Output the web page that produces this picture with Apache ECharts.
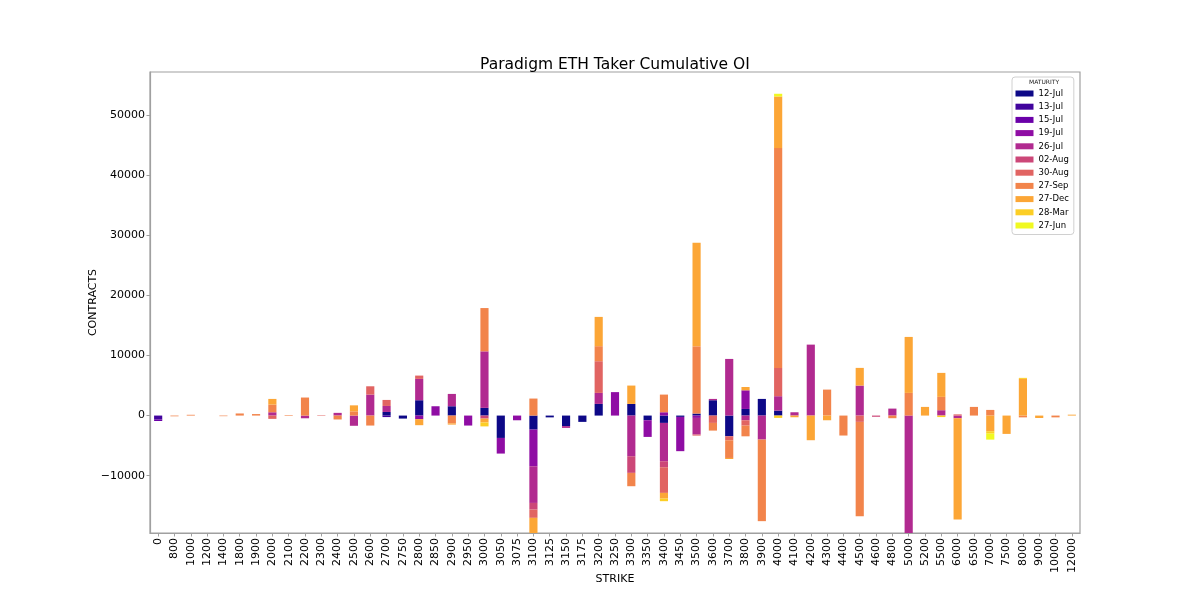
<!DOCTYPE html>
<html>
<head>
<meta charset="utf-8">
<script src="https://cdn.jsdelivr.net/npm/echarts@6/dist/echarts.min.js"></script>
<style>html,body{margin:0;padding:0;background:#fff;}#c{width:1200px;height:600px;}</style>
</head>
<body>
<div id="c"></div>
<script>
const strikes = ['0','800','1000','1200','1400','1800','1900','2000','2100','2200','2300','2400','2500','2600','2700','2750','2800','2850','2900','2950','3000','3050','3075','3100','3125','3150','3175','3200','3250','3300','3350','3400','3450','3500','3600','3700','3800','3900','4000','4100','4200','4300','4400','4500','4600','4800','5000','5200','5500','6000','6500','7000','7500','8000','9000','10000','12000'];
const maturities = ['12-Jul','13-Jul','15-Jul','19-Jul','26-Jul','02-Aug','30-Aug','27-Sep','27-Dec','28-Mar','27-Jun'];
const colors = ['#0d0887','#41049d','#6a00a8','#8f0da4','#b12a90','#cc4778','#e16462','#f2844b','#fca636','#fcce25','#f0f921'];
const yTicks = [-10000,0,10000,20000,30000,40000,50000];

//            0   800 1000 1200 1400 1800 1900 2000 2100 2200 2300 2400 2500 2600 2700 2750 2800 2850 2900 2950 3000 3050 3075 3100 3125 3150 3175 3200 3250 3300 3350 3400 3450 3500 3600 3700 3800 3900 4000 4100 4200 4300 4400 4500 4600 4800 5000 5200 5500 6000 6500 7000 7500 8000 9000 10000 12000
const jul12 = [0,0,0,0,0,0,0,0,0,0,0,0,0,0,600,-500,2550,0,1550,0,1280,-3720,0,-2330,-300,-1750,-1050,1940,0,1940,-780,-1220,-220,330,2550,-3440,1100,2770,830,0,0,0,0,0,0,0,0,0,0,0,0,0,0,0,0,0,0];
const jul13 = [-650,0,0,0,0,0,0,0,0,0,0,0,0,0,-250,0,0,0,0,0,0,0,0,0,0,0,0,0,0,0,0,0,0,0,0,0,0,0,0,0,0,0,0,0,0,0,0,0,0,0,0,0,0,0,0,0,0];
const jul15 = [-250,0,0,0,0,0,0,0,0,0,0,0,0,0,0,0,0,0,0,0,0,0,0,0,0,0,0,0,0,0,0,0,0,0,0,0,0,0,0,0,0,0,0,0,0,0,0,0,0,0,0,0,0,0,0,0,0];
const jul19 = [0,0,0,0,0,0,0,0,0,0,0,0,0,0,0,0,-600,1550,0,-1660,0,-2600,-780,-6100,0,0,0,0,3900,0,-2770,550,-5700,-390,0,0,3100,0,0,0,0,0,0,0,0,0,0,0,0,0,0,0,0,0,0,0,0];
const jul26 = [0,0,0,0,0,0,0,550,0,-450,0,450,-1700,3490,1000,0,3550,0,2050,0,9400,0,0,-6100,0,-300,0,1830,0,-6760,0,-6370,0,-2770,220,9420,-780,-3990,2390,550,11800,0,0,4990,0,1160,-21000,0,890,-450,0,0,0,0,0,0,0];
const aug02 = [0,0,0,0,0,0,0,0,0,0,0,0,0,0,0,0,0,0,0,0,-500,0,0,-1100,0,0,0,0,0,-2770,0,-1000,0,0,0,0,0,0,0,0,0,0,0,0,-200,0,0,0,0,0,0,0,0,0,0,0,0];
const aug30 = [0,0,0,0,0,0,0,-550,0,0,80,0,0,1380,1000,0,550,0,0,0,0,0,0,-1380,0,0,0,5270,0,0,0,-4270,0,-170,-1220,-670,-890,0,4710,0,0,0,0,-1050,0,0,0,0,0,200,0,0,0,0,0,0,0];
const sep27 = [0,-120,130,0,-100,350,250,1280,100,3000,0,-650,700,-1660,0,0,0,0,-1300,0,7200,0,0,2830,0,0,0,2500,0,-2220,0,2940,0,11190,-1280,-2940,-1780,-13570,36560,0,0,4320,-3320,-15680,0,-440,3770,0,2220,0,1440,940,0,-300,0,-300,0];
const dec27 = [0,0,0,0,0,0,0,940,0,0,0,0,1000,0,0,0,-1000,0,-200,0,-650,0,0,-2800,0,0,0,4870,0,3050,0,-940,0,17230,0,-170,550,0,8580,-280,-4100,-780,0,2940,0,0,9310,1440,3990,-16840,0,-2600,-3050,6100,-400,0,150];
const mar28 = [0,0,0,0,0,0,0,0,0,0,0,0,0,0,0,0,0,0,0,0,-650,0,0,0,0,0,0,0,0,0,0,-440,0,0,0,0,0,0,-390,0,0,0,0,0,0,0,0,0,-250,0,0,-400,0,170,0,0,0];
const jun27 = [0,0,0,0,0,0,0,0,0,0,0,0,0,0,0,0,0,0,0,0,0,0,0,0,0,0,0,0,0,0,0,0,0,0,0,0,0,0,450,0,0,0,0,0,0,0,0,0,0,0,0,-1000,0,0,0,0,0];

const seriesValues = [jul12, jul13, jul15, jul19, jul26, aug02, aug30, sep27, dec27, mar28, jun27];

const chart = echarts.init(document.getElementById('c'), null, {renderer: 'canvas'});
const FONT = 'DejaVu Sans';
chart.setOption({
  animation: false,
  backgroundColor: '#fff',
  color: colors,
  textStyle: {fontFamily: FONT},
  title: {
    text: 'Paradigm ETH Taker Cumulative OI',
    left: 475, top: 52,
    textStyle: {fontFamily: FONT, fontSize: 15.5, fontWeight: 'normal', color: '#000'}
  },
  grid: {left: 150, right: 120, top: 72, bottom: 67, show: true, borderColor: '#a0a0a0', borderWidth: 1.2, backgroundColor: 'transparent'},
  legend: {
    orient: 'vertical', left: 1012, top: 77,
    padding: [11.5, 5, 4, 3.5],
    itemWidth: 18, itemHeight: 6, itemGap: 3.2,
    icon: 'rect',
    borderColor: '#d0d0d0', borderWidth: 1, borderRadius: 3,
    backgroundColor: 'rgba(255,255,255,0.8)',
    textStyle: {fontFamily: FONT, fontSize: 8.5, lineHeight: 10, color: '#000'},
    data: maturities
  },
  graphic: [{
    type: 'text', left: 1029, top: 79, z: 100,
    style: {text: 'MATURITY', fontFamily: FONT, fontSize: 6, fill: '#222'}
  }],
  xAxis: {
    type: 'category', data: strikes,
    name: 'STRIKE', nameLocation: 'middle', nameGap: 41, nameMoveOverlap: false,
    nameTextStyle: {fontFamily: FONT, fontSize: 11, color: '#000'},
    axisLine: {show: true, onZero: false, lineStyle: {color: '#a0a0a0', width: 1.2}},
    axisTick: {show: true, alignWithLabel: true, length: 3.5, lineStyle: {color: '#a0a0a0'}},
    axisLabel: {rotate: 90, fontFamily: FONT, fontSize: 11, color: '#000', margin: 5, interval: 0},
    splitLine: {show: false}
  },
  yAxis: {
    type: 'value', min: -19530, max: 57140,
    name: 'CONTRACTS', nameLocation: 'middle', nameGap: 51, nameRotate: 90, nameMoveOverlap: false,
    nameTextStyle: {fontFamily: FONT, fontSize: 11, color: '#000'},
    axisLine: {show: true, lineStyle: {color: '#a0a0a0', width: 1.2}},
    axisTick: {show: true, length: 3.5, lineStyle: {color: '#a0a0a0'}, customValues: yTicks},
    axisLabel: {fontFamily: FONT, fontSize: 11, color: '#000', margin: 5, customValues: yTicks,
      formatter: v => String(Math.round(v)).replace('-', '\u2212')},
    splitLine: {show: false}
  },
  series: maturities.map((m, i) => ({
    name: m, type: 'bar', stack: 'total', barWidth: '50%',
    data: seriesValues[i],
    itemStyle: {color: colors[i]},
    emphasis: {disabled: true}
  }))
});
</script>
</body>
</html>
